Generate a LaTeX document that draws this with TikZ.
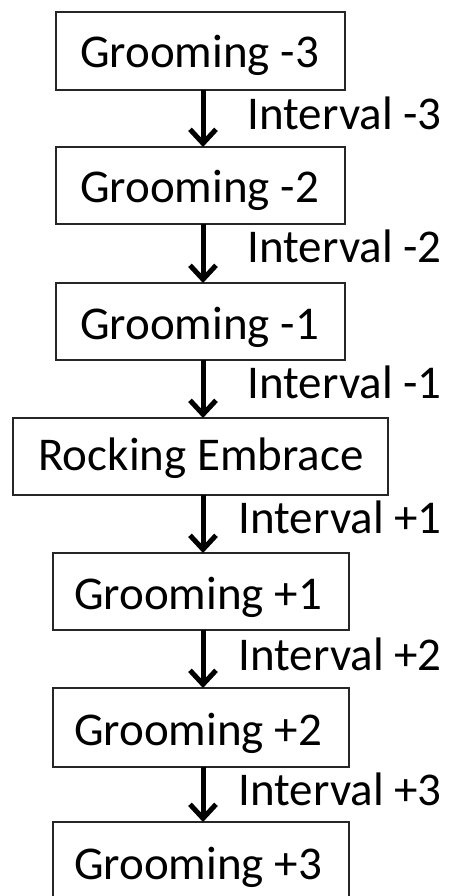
\documentclass[tikz,border=0pt]{standalone}
\usepackage{fontspec}
\setmainfont{Carlito}
\usetikzlibrary{arrows.meta}
\begin{document}
\begin{tikzpicture}[x=1pt,y=-1pt,
  stagebox/.style={draw=black!85, line width=2pt, inner sep=0pt, outer sep=0pt,
    font=\fontsize{47}{56}\selectfont, text depth=0pt, text height=0pt},
  flowarrow/.style={line width=5pt, -{Straight Barb[length=14pt,width=26pt]}},
  boxtext/.style={anchor=base, inner sep=0pt, font=\fontsize{47}{56}\selectfont},
  intlabel/.style={anchor=base east, inner sep=0pt, font=\fontsize{47}{56}\selectfont}]
\useasboundingbox (0,0) rectangle (450,896);
\fill[white] (0,0) rectangle (450,896);
\coordinate (ax) at (203,0);

\node[stagebox, minimum width=289pt, minimum height=78pt] (g3) at (200.5,51) {};
\node[stagebox, minimum width=289pt, minimum height=77pt] (g2) at (200.5,185.5) {};
\node[stagebox, minimum width=289pt, minimum height=77pt] (g1) at (200.5,321.5) {};
\node[stagebox, minimum width=375pt, minimum height=77pt] (re) at (200.5,456.5) {};
\node[stagebox, minimum width=296pt, minimum height=77pt] (p1) at (201,591.5) {};
\node[stagebox, minimum width=296pt, minimum height=79pt] (p2) at (201,727.5) {};
\node[stagebox, minimum width=296pt, minimum height=80pt] (p3) at (201,862) {};

\node[boxtext] (t3) at (199.5,68) {Grooming -3};
\node[boxtext] (t2) at (199.5,203) {Grooming -2};
\node[boxtext] (t1) at (199.5,339) {Grooming -1};
\node[boxtext] (tr) at (201,470) {Rocking Embrace};
\node[boxtext] (tp1) at (198,609) {Grooming +1};
\node[boxtext] (tp2) at (198,745) {Grooming +2};
\node[boxtext] (tp3) at (198,879) {Grooming +3};

\draw[flowarrow] (g3.south -| ax) -- (g2.north -| ax);
\draw[flowarrow] (g2.south -| ax) -- (g1.north -| ax);
\draw[flowarrow] (g1.south -| ax) -- (re.north -| ax);
\draw[flowarrow] (re.south -| ax) -- (p1.north -| ax);
\draw[flowarrow] (p1.south -| ax) -- (p2.north -| ax);
\draw[flowarrow] (p2.south -| ax) -- (p3.north -| ax);

\node[intlabel] (i3) at (442,130) {Interval -3};
\node[intlabel] (i2) at (442,262) {Interval -2};
\node[intlabel] (i1) at (442,398) {Interval -1};
\node[intlabel] (j1) at (442,533) {Interval +1};
\node[intlabel] (j2) at (442,670) {Interval +2};
\node[intlabel] (j3) at (442,805) {Interval +3};
\end{tikzpicture}
\end{document}
